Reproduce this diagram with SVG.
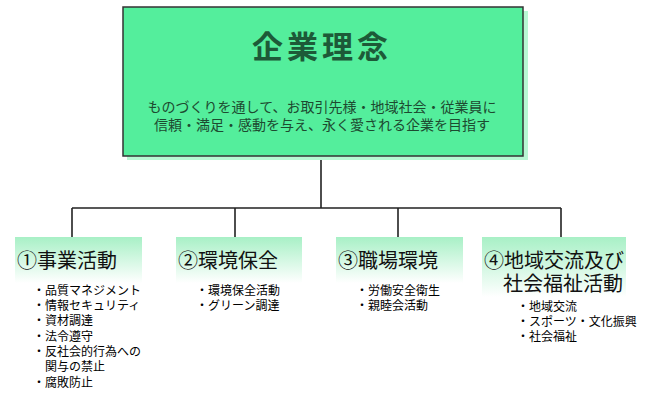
<svg xmlns="http://www.w3.org/2000/svg" width="650" height="400" viewBox="0 0 650 400">
<defs>
<linearGradient id="g" x1="0" y1="0" x2="0" y2="1">
<stop offset="0" stop-color="#a8f0c6"/>
<stop offset="1" stop-color="#ffffff"/>
</linearGradient>
<style>
.jp{font-family:"Noto Sans CJK JP","Noto Sans",sans-serif;}
.head{font-size:20px;fill:#111;}
.item{font-size:12px;fill:#000;}
.conn{stroke:#222;stroke-width:1.6;fill:none;}
.cat{fill:url(#g);}
</style>
</defs>
<rect width="650" height="400" fill="#fff"/>
<g id="connectors">
<path class="conn" d="M321 157V208M72 208H561M72 208V237M235 208V237M398 208V237M561 208V237"/>
</g>
<g id="philosophy">
<rect x="127" y="11" width="401" height="149" fill="#b8f7d3"/>
<rect x="123" y="7" width="400" height="149" fill="#54ee9c" stroke="#333" stroke-width="1.5"/>
<text class="jp" x="322" y="58" text-anchor="middle" font-size="31" font-weight="bold" letter-spacing="4" fill="#1d5a38">企業理念</text>
<text class="jp" x="322" y="112" text-anchor="middle" font-size="14" fill="#1d4a30">ものづくりを通して、お取引先様・地域社会・従業員に</text>
<text class="jp" x="322" y="130" text-anchor="middle" font-size="14" fill="#1d4a30">信頼・満足・感動を与え、永く愛される企業を目指す</text>
</g>
<g id="cat1">
<rect class="cat" x="15" y="237" width="127" height="46"/>
<text class="jp head" x="17" y="268">①事業活動</text>
<text class="jp item" x="33" y="295">・品質マネジメント</text>
<text class="jp item" x="33" y="310">・情報セキュリティ</text>
<text class="jp item" x="33" y="325">・資材調達</text>
<text class="jp item" x="33" y="341">・法令遵守</text>
<text class="jp item" x="33" y="356">・反社会的行為への</text>
<text class="jp item" x="45" y="371">関与の禁止</text>
<text class="jp item" x="33" y="387">・腐敗防止</text>
</g>
<g id="cat2">
<rect class="cat" x="176" y="237" width="126" height="46"/>
<text class="jp head" x="178" y="268">②環境保全</text>
<text class="jp item" x="196" y="295">・環境保全活動</text>
<text class="jp item" x="196" y="310">・グリーン調達</text>
</g>
<g id="cat3">
<rect class="cat" x="336" y="237" width="127" height="46"/>
<text class="jp head" x="338" y="268">③職場環境</text>
<text class="jp item" x="356" y="295">・労働安全衛生</text>
<text class="jp item" x="356" y="310">・親睦会活動</text>
</g>
<g id="cat4">
<rect class="cat" x="482" y="237" width="144" height="60"/>
<text class="jp head" x="484" y="268">④地域交流及び</text>
<text class="jp head" x="503" y="291">社会福祉活動</text>
<text class="jp item" x="517" y="311">・地域交流</text>
<text class="jp item" x="517" y="326">・スポーツ・文化振興</text>
<text class="jp item" x="517" y="341">・社会福祉</text>
</g>
</svg>
